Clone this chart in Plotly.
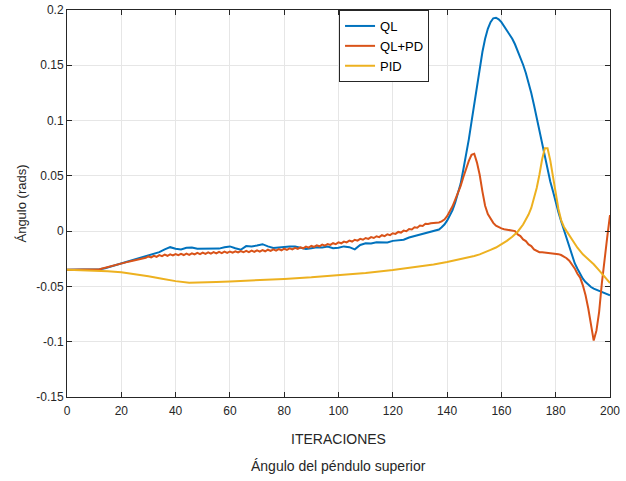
import plotly.graph_objects as go

# ---- data -------------------------------------------------------------
iter_qlpd = list(range(0, 201))
ang_qlpd = [
    -0.0350, -0.0350, -0.0350, -0.0350, -0.0350, -0.0350, -0.0350, -0.0350, -0.0350, -0.0350,
    -0.0350, -0.0348, -0.0344, -0.0338, -0.0331, -0.0323, -0.0316, -0.0309, -0.0302, -0.0296,
    -0.0290, -0.0285, -0.0280, -0.0275, -0.0270, -0.0265, -0.0259, -0.0253, -0.0247, -0.0241,
    -0.0229, -0.0238, -0.0223, -0.0232, -0.0217, -0.0226, -0.0213, -0.0223, -0.0210, -0.0220,
    -0.0207, -0.0218, -0.0205, -0.0216, -0.0203, -0.0214, -0.0200, -0.0211, -0.0197, -0.0208,
    -0.0194, -0.0205, -0.0192, -0.0203, -0.0190, -0.0201, -0.0188, -0.0199, -0.0186, -0.0197,
    -0.0184, -0.0195, -0.0182, -0.0193, -0.0180, -0.0191, -0.0178, -0.0189, -0.0176, -0.0187,
    -0.0174, -0.0185, -0.0171, -0.0182, -0.0168, -0.0179, -0.0165, -0.0176, -0.0162, -0.0173,
    -0.0159, -0.0169, -0.0155, -0.0165, -0.0151, -0.0161, -0.0146, -0.0155, -0.0140, -0.0149,
    -0.0134, -0.0143, -0.0128, -0.0137, -0.0122, -0.0131, -0.0116, -0.0124, -0.0109, -0.0117,
    -0.0102, -0.0110, -0.0094, -0.0102, -0.0086, -0.0094, -0.0078, -0.0086, -0.0070, -0.0078,
    -0.0062, -0.0070, -0.0054, -0.0062, -0.0046, -0.0054, -0.0037, -0.0045, -0.0028, -0.0036,
    -0.0019, -0.0025, -0.0007, -0.0013, 0.0005, -0.0001, 0.0019, 0.0015, 0.0035, 0.0031,
    0.0051, 0.0047, 0.0067, 0.0064, 0.0071, 0.0073, 0.0075, 0.0079, 0.0088, 0.0105,
    0.0135, 0.0175, 0.0225, 0.0285, 0.0345, 0.0410, 0.0490, 0.0565, 0.0635, 0.0690,
    0.0700, 0.0620, 0.0510, 0.0360, 0.0230, 0.0155, 0.0110, 0.0075, 0.0050, 0.0035,
    0.0025, 0.0018, 0.0013, 0.0009, 0.0005, 0.0000, -0.0030, -0.0045, -0.0075, -0.0090,
    -0.0120, -0.0135, -0.0165, -0.0180, -0.0190, -0.0192, -0.0194, -0.0196, -0.0198, -0.0200,
    -0.0203, -0.0208, -0.0216, -0.0228, -0.0245, -0.0268, -0.0298, -0.0337, -0.0385, -0.0420,
    -0.0490, -0.0580, -0.0700, -0.0850, -0.0990, -0.0900, -0.0730, -0.0470, -0.0240, -0.0050,
    0.0145,
]

iter_ql = list(range(0, 137, 2)) + list(range(137, 201))
ang_ql = [
    -0.0350, -0.0350, -0.0350, -0.0350, -0.0350, -0.0349, -0.0345, -0.0335, -0.0320, -0.0305,
    -0.0290, -0.0278, -0.0265, -0.0248, -0.0235, -0.0222, -0.0205, -0.0190, -0.0165, -0.0145,
    -0.0160, -0.0165, -0.0150, -0.0148, -0.0160, -0.0158, -0.0162, -0.0155, -0.0158, -0.0145,
    -0.0138, -0.0155, -0.0168, -0.0135, -0.0138, -0.0130, -0.0118, -0.0138, -0.0152, -0.0148,
    -0.0142, -0.0138, -0.0140, -0.0152, -0.0162, -0.0155, -0.0145, -0.0148, -0.0140, -0.0155,
    -0.0150, -0.0138, -0.0145, -0.0165, -0.0125, -0.0110, -0.0112, -0.0100, -0.0098, -0.0102,
    -0.0088, -0.0080, -0.0078, -0.0058, -0.0045, -0.0025, -0.0012, -0.0002, 0.0008,
    0.0015, 0.0035, 0.0060, 0.0095, 0.0140, 0.0190, 0.0260, 0.0340, 0.0430, 0.0560,
    0.0680, 0.0830, 0.0990, 0.1150, 0.1320, 0.1480, 0.1620, 0.1740, 0.1830, 0.1890,
    0.1925, 0.1930, 0.1915, 0.1890, 0.1855, 0.1815, 0.1775, 0.1740, 0.1690, 0.1630,
    0.1570, 0.1505, 0.1430, 0.1345, 0.1250, 0.1140, 0.1020, 0.0905, 0.0790, 0.0670,
    0.0560, 0.0450, 0.0360, 0.0260, 0.0170, 0.0090, 0.0010, -0.0070, -0.0150, -0.0220,
    -0.0290, -0.0340, -0.0390, -0.0430, -0.0460, -0.0485, -0.0505, -0.0520, -0.0530, -0.0540,
    -0.0550, -0.0560, -0.0570, -0.0580,
]

iter_pid = [0, 5, 10, 15, 20, 25, 30, 35, 40, 45, 50, 55, 60, 70, 80, 90, 100, 110, 120, 130,
            135, 140, 145, 150, 152, 154, 156, 158, 160, 162, 164, 166, 168, 169, 170, 171, 172,
            173, 174, 175, 176, 177, 178, 179, 180, 181, 182, 183, 184, 186, 188, 190, 192, 194,
            196, 198, 200]
ang_pid = [-0.0350, -0.0352, -0.0356, -0.0362, -0.0372, -0.0388, -0.0408, -0.0430, -0.0452,
           -0.0466, -0.0466, -0.0460, -0.0455, -0.0445, -0.0432, -0.0418, -0.0400, -0.0378,
           -0.0352, -0.0322, -0.0302, -0.0280, -0.0255, -0.0225, -0.0210, -0.0192, -0.0170,
           -0.0148, -0.0120, -0.0088, -0.0050, -0.0005, 0.0060, 0.0100, 0.0150, 0.0210, 0.0290,
           0.0390, 0.0510, 0.0650, 0.0750, 0.0750, 0.0640, 0.0480, 0.0320, 0.0200, 0.0100,
           0.0040, 0.0000, -0.0080, -0.0150, -0.0210, -0.0255, -0.0300, -0.0355, -0.0410,
           -0.0470]

y_ticks = [-0.15, -0.1, -0.05, 0, 0.05, 0.1, 0.15, 0.2]
y_tick_labels = ["-0.15", "-0.1", "-0.05", "0", "0.05", "0.1", "0.15", "0.2"]
x_ticks = [0, 20, 40, 60, 80, 100, 120, 140, 160, 180, 200]

# ---- figure -----------------------------------------------------------
FONT = "Liberation Sans, Arial, sans-serif"
AXC = "#262626"

fig = go.Figure()
fig.add_trace(go.Scatter(x=iter_ql, y=ang_ql, mode="lines", name="QL",
                         line=dict(color="#0072BD", width=2)))
fig.add_trace(go.Scatter(x=iter_qlpd, y=ang_qlpd, mode="lines", name="QL+PD",
                         line=dict(color="#D95319", width=2)))
fig.add_trace(go.Scatter(x=iter_pid, y=ang_pid, mode="lines", name="PID",
                         line=dict(color="#EDB120", width=2)))

axis_common = dict(
    showline=True, linecolor=AXC, linewidth=1, mirror="allticks",
    ticks="inside", ticklen=5, tickcolor=AXC, tickwidth=1,
    showgrid=True, gridcolor="#e6e6e6", gridwidth=1,
    zeroline=False, automargin=False,
    tickfont=dict(family=FONT, size=12, color=AXC),
)

fig.update_xaxes(range=[0, 200], tickvals=x_ticks, ticklabelstandoff=3,
                 title=dict(text="ITERACIONES", font=dict(family=FONT, size=14, color=AXC),
                            standoff=16),
                 **axis_common)
fig.update_yaxes(range=[-0.15, 0.2], tickvals=y_ticks, ticktext=y_tick_labels,
                 title=dict(text="Ángulo (rads)", font=dict(family=FONT, size=13, color=AXC),
                            standoff=6),
                 **axis_common)

fig.add_annotation(text="Ángulo del péndulo superior", xref="paper", yref="paper",
                   x=0.5, y=0, yshift=-59, xanchor="center", yanchor="top", showarrow=False,
                   font=dict(family=FONT, size=14, color=AXC))

fig.update_layout(
    width=626, height=481,
    margin=dict(l=67, r=16, t=10, b=84),
    paper_bgcolor="white", plot_bgcolor="white",
    showlegend=True,
    legend=dict(x=0.501, y=1, xanchor="left", yanchor="top",
                bgcolor="white", bordercolor=AXC, borderwidth=1,
                font=dict(family=FONT, size=13, color="black"),
                itemwidth=30, tracegroupgap=0),
)

fig.write_html("out.html")
